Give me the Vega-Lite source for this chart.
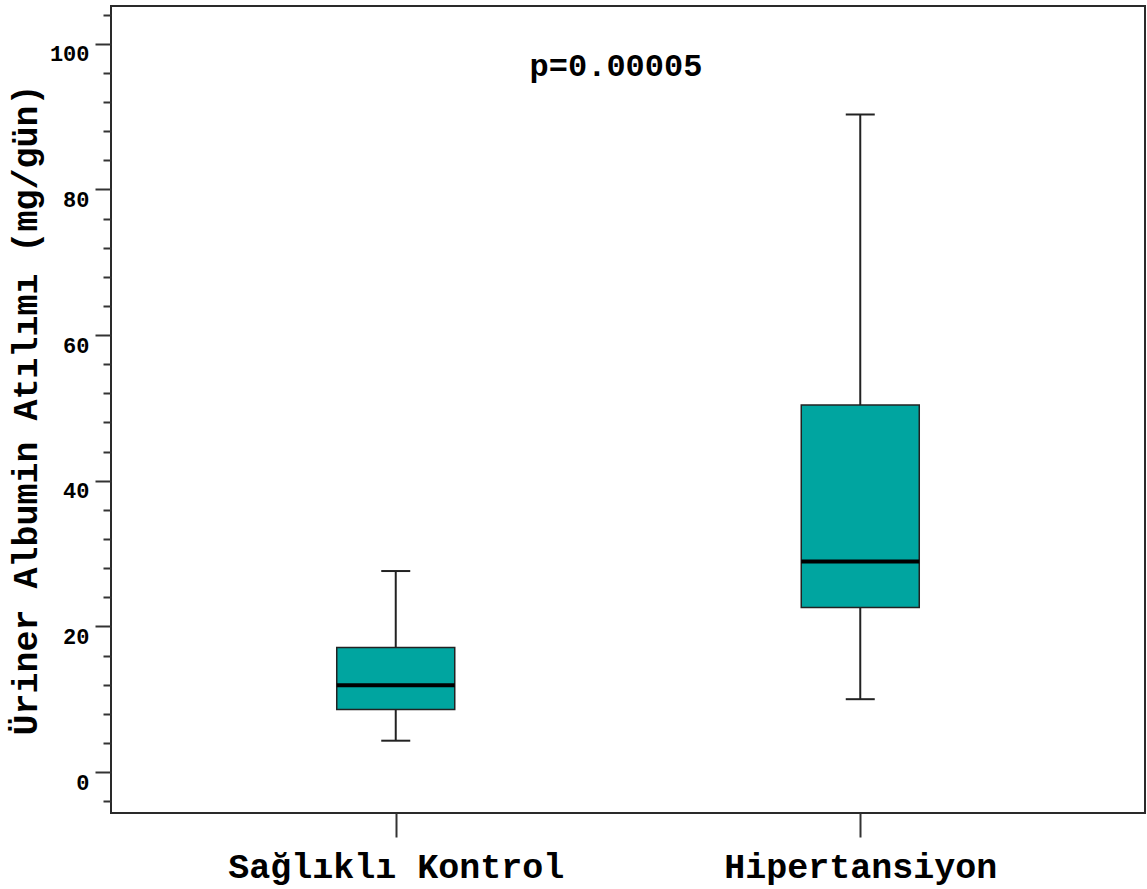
{
  "$schema": "https://vega.github.io/schema/vega-lite/v6.json",
  "width": 1034,
  "height": 807,
  "autosize": {"type": "none"},
  "padding": {"left": 111, "top": 6, "right": 2, "bottom": 76},
  "background": "white",
  "config": {
    "view": {"stroke": "#2a2a2a", "strokeWidth": 2},
    "font": "Liberation Mono"
  },
  "data": {
    "values": [
      {"group": "Sağlıklı Kontrol", "lower": 4.3, "q1": 8.6, "median": 11.9, "q3": 17.1, "upper": 27.6},
      {"group": "Hipertansiyon", "lower": 10.0, "q1": 22.6, "median": 28.9, "q3": 50.4, "upper": 90.3}
    ]
  },
  "resolve": {"axis": {"y": "independent"}},
  "layer": [
    {
      "mark": {"type": "rule", "strokeWidth": 2, "color": "#222"},
      "encoding": {
        "x": {
          "field": "group", "type": "nominal", "sort": null,
          "scale": {"type": "point", "padding": 0.613},
          "axis": {
            "title": null, "domain": false, "tickSize": 24, "tickWidth": 2, "tickColor": "#333",
            "labelFont": "Liberation Mono", "labelFontSize": 35, "labelFontWeight": "bold",
            "labelColor": "black", "labelPadding": 12, "labelAngle": 0, "labelLimit": 0, "labelOverlap": false
          }
        },
        "y": {
          "field": "lower", "type": "quantitative",
          "scale": {"domain": [-5.63, 105.2], "nice": false, "zero": false},
          "axis": {
            "orient": "left",
            "title": "Üriner Albumin Atılımı (mg/gün)",
            "titleFont": "Liberation Mono", "titleFontSize": 35, "titleFontWeight": "bold",
            "titleColor": "black", "titlePadding": 6,
            "grid": false, "domain": false,
            "values": [0, 20, 40, 60, 80, 100],
            "labelOverlap": false,
            "tickSize": 16,
            "tickWidth": 2, "tickColor": "#333",
            "labelFont": "Liberation Mono", "labelFontSize": 22, "labelFontWeight": "bold",
            "labelColor": "black", "labelBaseline": "top", "labelPadding": 6, "labelFlush": false
          }
        },
        "y2": {"field": "q1"}
      }
    },
    {
      "mark": {"type": "rule", "strokeWidth": 2, "color": "#222"},
      "encoding": {
        "x": {"field": "group", "type": "nominal", "sort": null},
        "y": {"field": "q3", "type": "quantitative", "axis": null},
        "y2": {"field": "upper"}
      }
    },
    {
      "mark": {"type": "tick", "size": 29, "thickness": 2, "color": "#222", "opacity": 1},
      "encoding": {
        "x": {"field": "group", "type": "nominal", "sort": null},
        "y": {"field": "lower", "type": "quantitative", "axis": null}
      }
    },
    {
      "mark": {"type": "tick", "size": 29, "thickness": 2, "color": "#222", "opacity": 1},
      "encoding": {
        "x": {"field": "group", "type": "nominal", "sort": null},
        "y": {"field": "upper", "type": "quantitative", "axis": null}
      }
    },
    {
      "mark": {"type": "bar", "size": 118, "fill": "#00A5A0", "stroke": "#222", "strokeWidth": 1.5, "opacity": 1},
      "encoding": {
        "x": {"field": "group", "type": "nominal", "sort": null},
        "y": {"field": "q1", "type": "quantitative", "axis": null},
        "y2": {"field": "q3"}
      }
    },
    {
      "mark": {"type": "tick", "size": 118, "thickness": 4, "color": "black", "opacity": 1},
      "encoding": {
        "x": {"field": "group", "type": "nominal", "sort": null},
        "y": {
          "field": "median", "type": "quantitative",
          "axis": {
            "orient": "left", "title": null, "labels": false, "grid": false, "domain": false,
            "values": [-4, 4, 8, 12, 16, 24, 28, 32, 36, 44, 48, 52, 56, 64, 68, 72, 76, 84, 88, 92, 96, 104],
            "tickSize": 8, "tickWidth": 2, "tickColor": "#333"
          }
        }
      }
    },
    {
      "data": {"values": [{"label": "p=0.00005"}]},
      "mark": {"type": "text", "font": "Liberation Mono", "fontSize": 32, "fontWeight": "bold", "color": "black", "baseline": "middle", "align": "center", "dx": -12},
      "encoding": {
        "y": {"datum": 97, "type": "quantitative", "axis": null},
        "text": {"field": "label", "type": "nominal"}
      }
    }
  ]
}
